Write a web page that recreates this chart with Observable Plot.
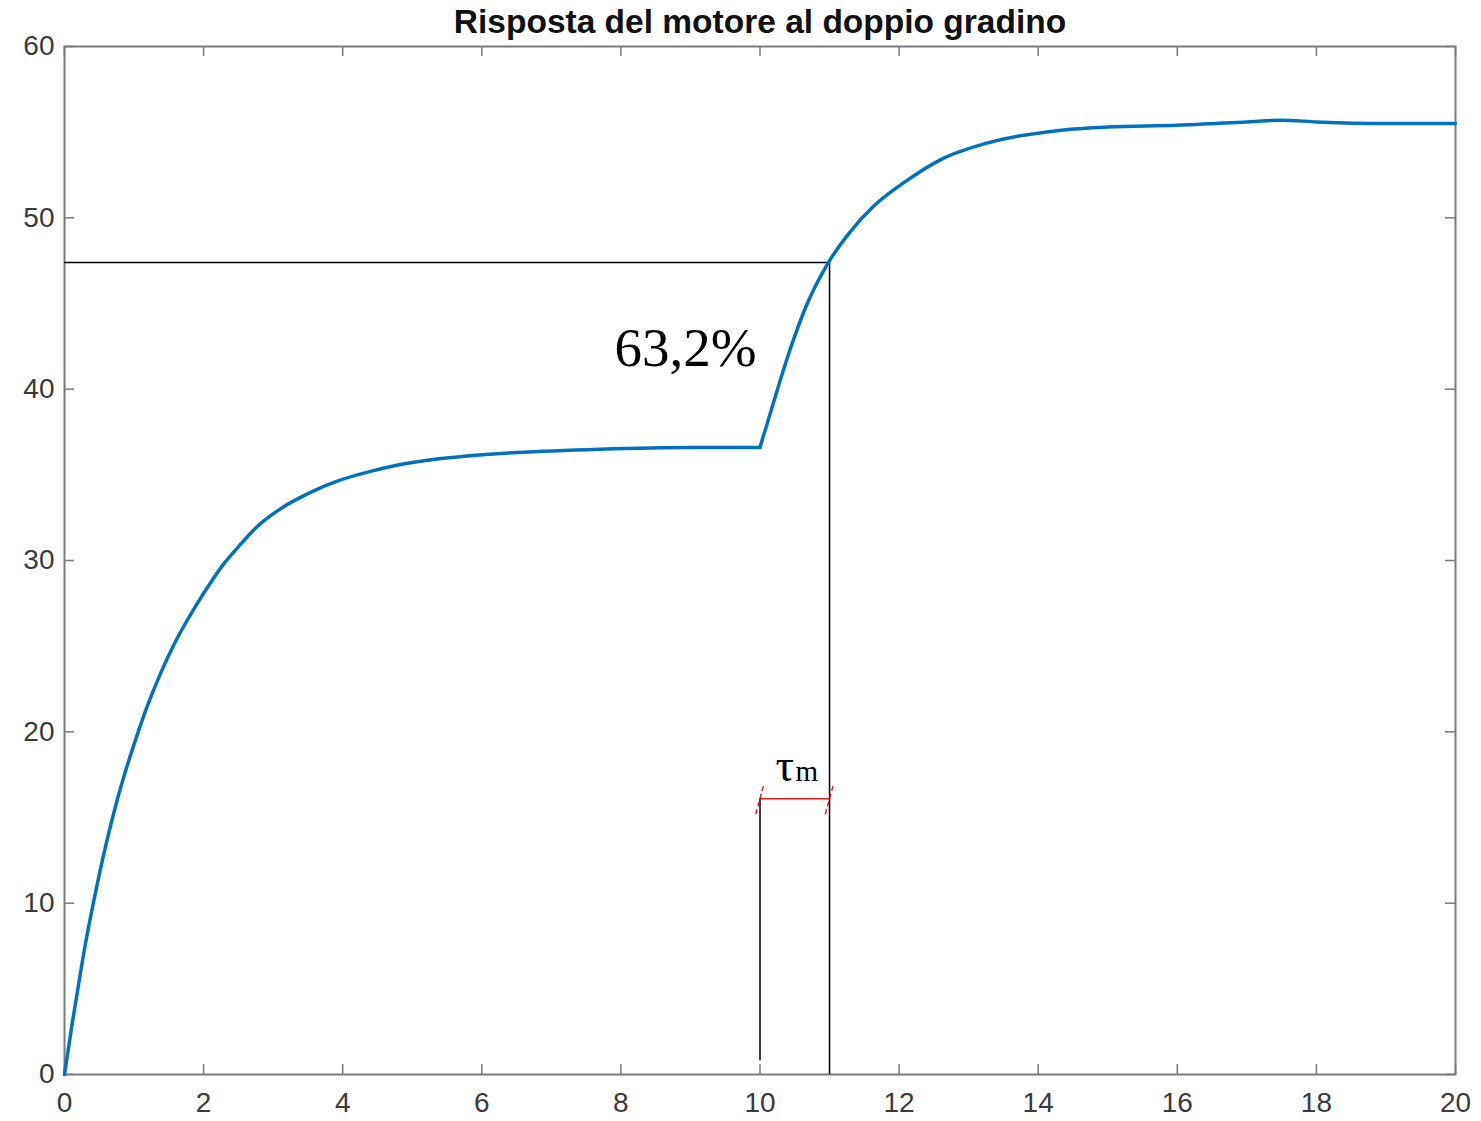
<!DOCTYPE html>
<html>
<head>
<meta charset="utf-8">
<script src="https://cdn.jsdelivr.net/npm/d3@7"></script>
<script src="https://cdn.jsdelivr.net/npm/@observablehq/plot@0.6"></script>
<style>
  html, body { margin: 0; padding: 0; background: #fff; }
  svg { display: block; }
</style>
</head>
<body>
<div id="chart"></div>
<script>
// ---- data ----
const title = "Risposta del motore al doppio gradino";
// first step response (0 – 10 s)
const time1 = [0, 0.1, 0.2, 0.3, 0.42, 0.55, 0.73, 0.9, 1.06, 1.2, 1.38, 1.6, 1.91, 2.1, 2.29, 2.5, 2.75, 3.1, 3.5, 3.97, 4.4, 4.83, 5.3, 5.79, 6.5, 7.7, 9, 10];
const speed1 = [0, 2.7, 5.2, 7.6, 10.1, 12.6, 15.6, 18.0, 20.0, 21.6, 23.4, 25.3, 27.5, 28.7, 29.8, 30.8, 31.9, 33.0, 33.9, 34.7, 35.2, 35.6, 35.9, 36.1, 36.3, 36.5, 36.6, 36.6];
// second step response (10 – 20 s)
const time2 = [10, 10.2, 10.44, 10.68, 10.97, 11.3, 11.64, 12.12, 12.6, 13.3, 14.3, 15, 16, 17, 17.5, 18, 19, 20];
const speed2 = [36.6, 39.3, 42.4, 45.0, 47.3, 49.2, 50.7, 52.2, 53.4, 54.4, 55.1, 55.3, 55.4, 55.6, 55.7, 55.6, 55.5, 55.5];
const xTicks = [0, 2, 4, 6, 8, 10, 12, 14, 16, 18, 20];
const yTicks = [0, 10, 20, 30, 40, 50, 60];
const level632 = 47.4;     // 63,2% level
const tStep = 10;          // second step time
const tTau = 11;           // time reaching 63,2%
const tauBarY = 16.1;      // height of the τm bracket
const tauLineBottom = 0.8; // bottom of the line at t = 10
const label632 = {text: "63,2%", x: 8.93, y: 42.4};
const labelTau = {x: 10.5, y: 17.9};

const W = 1481, H = 1121;
const mL = 64, mR = 26, mT = 46, mB = 47;
const fw = W - mL - mR, fh = H - mT - mB;
const tick = 10;
const axisColor = "#7a7a7a";
const sans = "'Liberation Sans', Arial, sans-serif";
const serif = "'Liberation Serif', 'Times New Roman', serif";

const data = [
  ...time1.map((t, i) => ({t, v: speed1[i], seg: 1})),
  ...time2.map((t, i) => ({t, v: speed2[i], seg: 2}))
];

const chart = Plot.plot({
  width: W, height: H,
  marginLeft: mL, marginRight: mR, marginTop: mT, marginBottom: mB,
  style: {fontFamily: sans, background: "#fff"},
  x: {domain: [0, 20], ticks: xTicks},
  y: {domain: [0, 60], ticks: yTicks},
  marks: [
    // inward ticks on all four sides (MATLAB box style)
    Plot.ruleX(xTicks, {x: d => d, insetTop: fh - tick, stroke: axisColor, strokeWidth: 1.5}),
    Plot.ruleX(xTicks, {x: d => d, insetBottom: fh - tick, stroke: axisColor, strokeWidth: 1.5}),
    Plot.ruleY(yTicks, {y: d => d, insetRight: fw - tick, stroke: axisColor, strokeWidth: 1.5}),
    Plot.ruleY(yTicks, {y: d => d, insetLeft: fw - tick, stroke: axisColor, strokeWidth: 1.5}),
    Plot.frame({stroke: axisColor, strokeWidth: 2}),
    Plot.axisX({ticks: xTicks, tickSize: 0, tickPadding: 18, fontSize: 28, color: "#3a3a3a", label: null}),
    Plot.axisY({ticks: yTicks, tickSize: 0, tickPadding: 10, fontSize: 28, color: "#3a3a3a", label: null}),
    // reference lines
    Plot.ruleY([level632], {x1: 0, x2: tTau, y: d => d, stroke: "#000", strokeWidth: 1.5}),
    Plot.ruleX([tTau], {x: d => d, y1: 0, y2: level632, stroke: "#000", strokeWidth: 1.5}),
    Plot.ruleX([tStep], {x: d => d, y1: tauLineBottom, y2: tauBarY, stroke: "#000", strokeWidth: 1.5}),
    // tau bracket
    Plot.ruleY([tauBarY], {x1: tStep, x2: tTau, y: d => d, stroke: "#e8191c", strokeWidth: 1.5}),
    Plot.link([tStep, tTau], {
      x1: d => d - 0.06, x2: d => d + 0.06, y1: tauBarY - 0.9, y2: tauBarY + 0.9,
      stroke: "#e8191c", strokeWidth: 1.5, strokeDasharray: "5,3"
    }),
    // response curve
    Plot.line(data, {x: "t", y: "v", z: "seg", stroke: "#0072BD", strokeWidth: 3.5, curve: "monotone-x", strokeLinejoin: "round"}),
    // annotations
    Plot.text([label632], {x: "x", y: "y", text: "text", fontFamily: serif, fontSize: 55, fill: "#000"}),
    Plot.text([labelTau], {x: "x", y: "y", text: () => "τ", fontFamily: serif, fontSize: 46, fill: "#000", dx: -10, dy: -2}),
    Plot.text([labelTau], {x: "x", y: "y", text: () => "m", fontFamily: serif, fontSize: 29, fill: "#000", dx: 12, dy: 4}),
    // title
    Plot.text([title], {frameAnchor: "top", text: d => d, dy: -24, fontSize: 33.5, fontWeight: "bold", fill: "#111", fontFamily: sans, lineAnchor: "middle"})
  ]
});
document.getElementById("chart").appendChild(chart);
</script>
</body>
</html>
